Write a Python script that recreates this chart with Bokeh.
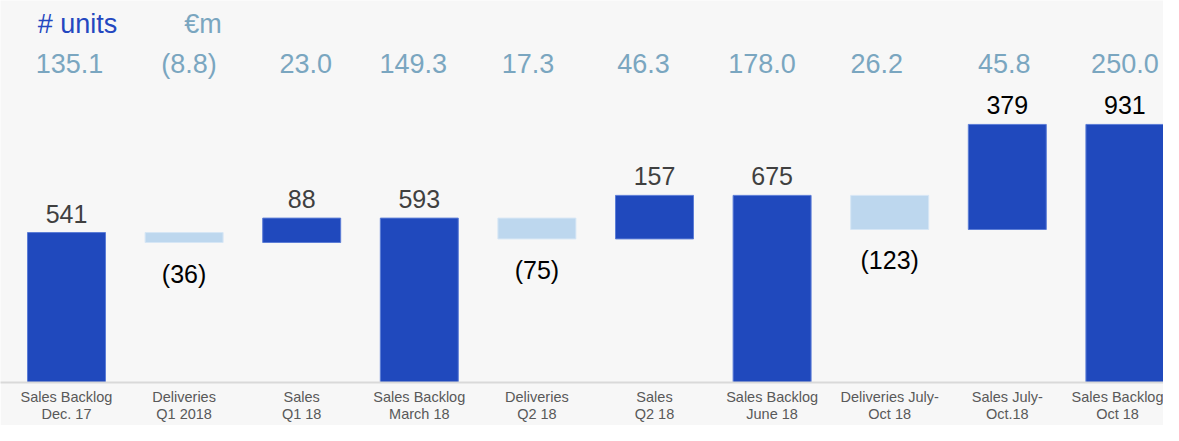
from bokeh.plotting import figure
from bokeh.models import ColumnDataSource, FixedTicker, Range1d
from bokeh.embed import file_html
from bokeh.resources import INLINE
from bokeh.core.properties import value

# ---- data ----
categories = ["Sales Backlog\nDec. 17", "Deliveries\nQ1 2018", "Sales\nQ1 18",
              "Sales Backlog\nMarch 18", "Deliveries\nQ2 18", "Sales\nQ2 18",
              "Sales Backlog\nJune 18", "Deliveries July-\nOct 18", "Sales July-\nOct.18",
              "Sales Backlog\nOct 18"]
kinds = ["total", "delta", "delta", "total", "delta", "delta", "total", "delta", "delta", "total"]
units = [541, -36, 88, 593, -75, 157, 675, -123, 379, 931]
eur_m = ["135.1", "(8.8)", "23.0", "149.3", "17.3", "46.3", "178.0", "26.2", "45.8", "250.0"]
header_units = "# units"
header_eur = "€m"

# ---- styles ----
DARK = "#2049bd"
LIGHT = "#bdd7ee"
HEAD_BLUE = "#7aa6c0"
label_colors = ["#404040", "#000000", "#404040", "#404040", "#000000", "#404040",
                "#404040", "#000000", "#000000", "#000000"]
head_dx = [3, 5, 4, -6, -9, -11, -10, -13, -3, 0]
FONT = "Liberation Sans"

W, H = 1163, 425
BOTTOM = 43
frame_h = H - BOTTOM
px_per_unit = 0.2772
y_end = frame_h / px_per_unit
du = 1.0 / px_per_unit  # data units per pixel

spacing = 117.6
x0 = -66.0 / spacing
x1 = x0 + W / spacing

# ---- waterfall geometry ----
xs, bottoms, tops, colors, lines = [], [], [], [], []
lab_y, lab_txt = [], []
running = 0
for i, (k, v) in enumerate(zip(kinds, units)):
    if k == "total":
        b, t = 0, v
        running = v
    else:
        b, t = sorted([running, running + v])
        running = running + v
    xs.append(i)
    bottoms.append(b)
    tops.append(t)
    colors.append(DARK if v > 0 else LIGHT)
    lines.append("#5c7dd6" if v > 0 else "#d6e6f5")
    if v >= 0:
        lab_y.append(t + 19 * du)
        lab_txt.append(str(v))
    else:
        lab_y.append(b - 31 * du)
        lab_txt.append("(%d)" % (-v))

src = ColumnDataSource(dict(x=xs, bottom=bottoms, top=tops, color=colors, line=lines,
                            ly=lab_y, lt=lab_txt, lc=label_colors))

p = figure(width=W, height=H, output_backend="svg", toolbar_location=None,
           x_range=Range1d(x0, x1), y_range=Range1d(0, y_end),
           y_axis_location=None, min_border_left=0, min_border_right=0,
           min_border_top=0, min_border_bottom=BOTTOM)
p.background_fill_color = "#f7f7f7"
p.border_fill_color = "#f7f7f7"
p.outline_line_color = None
p.xgrid.visible = False
p.ygrid.visible = False

p.vbar(x="x", bottom="bottom", top="top", width=0.663, fill_color="color",
       line_color="line", line_width=1, source=src)

p.text(x="x", y="ly", text="lt", text_color="lc", source=src,
       text_font=value(FONT), text_font_size="25px", text_align="center",
       text_baseline="middle")

# header rows
hy_vals = y_end - 63 * du
hsrc = ColumnDataSource(dict(x=xs, y=[hy_vals] * len(xs), t=eur_m, dx=head_dx))
p.text(x="x", y="y", text="t", x_offset="dx", source=hsrc, text_color=HEAD_BLUE,
       text_font=value(FONT), text_font_size="27px", text_align="center",
       text_baseline="middle")

hy_top = y_end - 23 * du
p.text(x=[0], y=[hy_top], text=[header_units], x_offset=11, text_color="#2447c0",
       text_font=value(FONT), text_font_size="27px", text_align="center",
       text_baseline="middle")
p.text(x=[1], y=[hy_top], text=[header_eur], x_offset=19, text_color=HEAD_BLUE,
       text_font=value(FONT), text_font_size="27px", text_align="center",
       text_baseline="middle")

ax = p.xaxis[0]
ax.ticker = FixedTicker(ticks=xs)
ax.major_label_overrides = {i: c for i, c in zip(xs, categories)}
ax.major_tick_line_color = None
ax.minor_tick_line_color = None
ax.axis_line_color = "#d9d9d9"
ax.axis_line_width = 2
ax.major_label_standoff = 0
ax.major_label_text_font = FONT
ax.major_label_text_font_size = "14.5px"
ax.major_label_text_color = "#595959"
ax.major_label_text_line_height = 1.1

open("out.html", "w").write(file_html(p, INLINE))
